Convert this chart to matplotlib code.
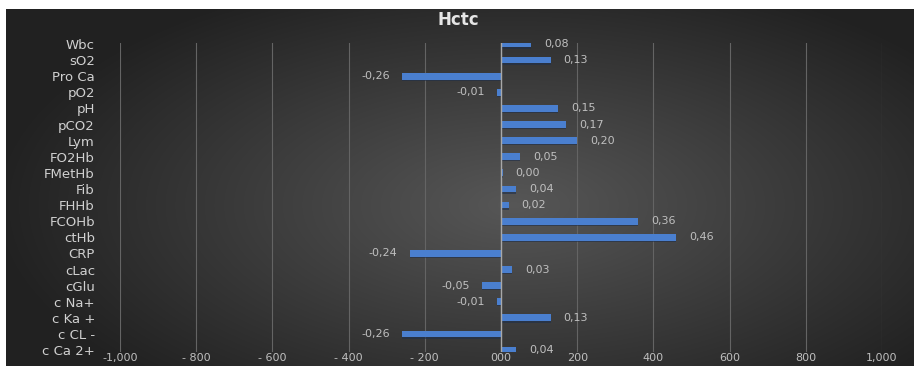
import numpy as np
import matplotlib.pyplot as plt

# correlation of each parameter with Hctc
params = ['Wbc', 'sO2', 'Pro Ca', 'pO2', 'pH', 'pCO2', 'Lym', 'FO2Hb', 'FMetHb',
          'Fib', 'FHHb', 'FCOHb', 'ctHb', 'CRP', 'cLac', 'cGlu', 'c Na+',
          'c Ka +', 'c CL -', 'c Ca 2+']
corr = [0.08, 0.13, -0.26, -0.01, 0.15, 0.17, 0.20, 0.05, 0.004,
        0.04, 0.02, 0.36, 0.46, -0.24, 0.03, -0.05, -0.01,
        0.13, -0.26, 0.04]
xticks = [-1000, -800, -600, -400, -200, 0, 200, 400, 600, 800, 1000]
xticklabels = ['-1,000', '- 800', '- 600', '- 400', '- 200', '000',
               '200', '400', '600', '800', '1,000']

W, H = 914, 366
fig = plt.figure(figsize=(W / 100, H / 100), dpi=100)
fig.patch.set_facecolor('white')

# dark panel with a soft radial shading
bg = fig.add_axes([6 / W, 0, 1 - 6 / W, 357 / H])
gx, gy = np.meshgrid(np.linspace(-1, 1, 400), np.linspace(-1, 1, 160))
r = np.sqrt(((gx - 0.12) / 1.1) ** 2 + ((gy - 0.1) / 1.3) ** 2)
shade = np.clip(0.34 - 0.2 * r, 0.13, 0.34)
bg.imshow(np.dstack([shade] * 3), aspect='auto', interpolation='bicubic')
bg.axis('off')

top, bottom = 43, 352
ax = fig.add_axes([120 / W, (H - bottom) / H, 762 / W, (bottom - top) / H])
ax.patch.set_alpha(0)

vals = np.array(corr) * 1000
y = np.arange(len(params))
ax.barh(y + 0.08, vals, height=0.42, color='#1f2f4a', alpha=0.6, zorder=2)
ax.barh(y, vals, height=0.42, color='#4a7fcf', zorder=3)

for yi, v in zip(y, corr):
    txt = f'{v:.2f}'.replace('.', ',')
    if v < 0:
        ax.annotate(txt, (v * 1000, yi), xytext=(-12, 0), textcoords='offset pixels',
                    ha='right', va='center', fontsize=8, color='#bfbfbf')
    else:
        ax.annotate(txt, (v * 1000, yi), xytext=(13, 0), textcoords='offset pixels',
                    ha='left', va='center', fontsize=8, color='#bfbfbf')

ax.set_xlim(-1000, 1000)
ax.set_ylim(len(params) - 1 + 0.12, -0.06)
ax.set_xticks(xticks)
ax.set_xticklabels(xticklabels)
ax.set_yticks(y)
ax.set_yticklabels(params)
ax.tick_params(axis='x', length=0, pad=0.5, labelsize=8, labelcolor='#bfbfbf')
ax.tick_params(axis='y', length=0, pad=18, labelsize=9.5, labelcolor='#d0d0d0')
ax.grid(axis='x', color='#646464', linewidth=0.8, zorder=0)
ax.axvline(0, color='#a8a8a8', linewidth=1, zorder=4)
for s in ax.spines.values():
    s.set_visible(False)

fig.text(458 / W, (H - 20) / H, 'Hctc', ha='center', va='center',
         fontsize=12, fontweight='bold', color='#e6e6e6')

fig.savefig('out.png', dpi=100)
